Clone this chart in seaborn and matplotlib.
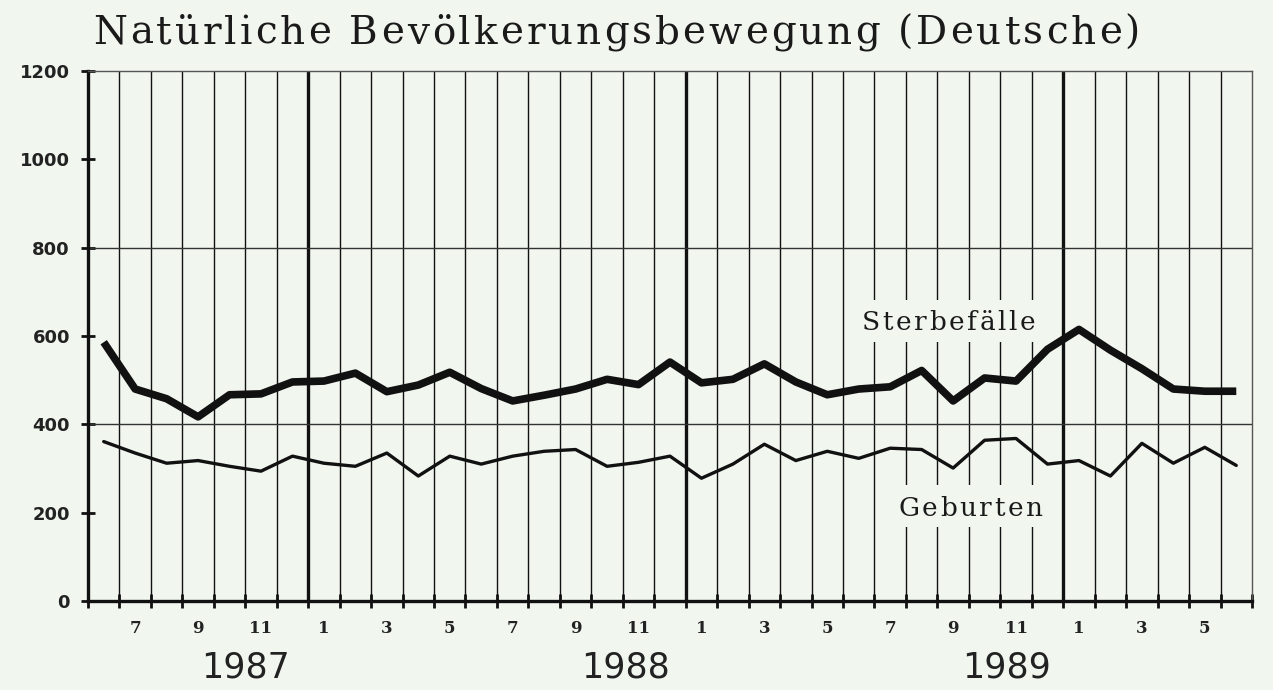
import numpy as np
import pandas as pd
import matplotlib
matplotlib.use("Agg")
import matplotlib.pyplot as plt
from matplotlib.font_manager import FontProperties
from matplotlib.patches import Rectangle
import seaborn as sns

# ---- data (monthly, June 1987 .. June 1990) ----
month_numbers = [6, 7, 8, 9, 10, 11, 12,
                 1, 2, 3, 4, 5, 6, 7, 8, 9, 10, 11, 12,
                 1, 2, 3, 4, 5, 6, 7, 8, 9, 10, 11, 12,
                 1, 2, 3, 4, 5, 6]
sterbefaelle = [586, 480, 458, 417, 467, 469, 496, 498, 516, 474, 489, 518,
                481, 453, 466, 480, 502, 490, 541, 494, 502, 537, 496, 467,
                480, 485, 522, 453, 505, 498, 570, 615, 568, 526, 480, 475, 475]
geburten = [361, 335, 312, 318, 305, 294, 328, 312, 305, 335, 283, 328,
            310, 328, 339, 343, 305, 314, 328, 278, 310, 355, 318, 339,
            323, 346, 343, 301, 364, 368, 310, 318, 283, 357, 312, 348, 307]
tick_month_labels = ["7", "9", "11", "1", "3", "5", "7", "9", "11",
                     "1", "3", "5", "7", "9", "11", "1", "3", "5"]
year_labels = ["1987", "1988", "1989"]
y_ticks = [0, 200, 400, 600, 800, 1000, 1200]

title = "Natürliche Bevölkerungsbewegung (Deutsche)"
label_sterbe = "Sterbefälle"
label_geburt = "Geburten"

BG = "#f1f6ef"
INK = "#111111"
TXT = "#1a1a1a"

idx = np.arange(len(month_numbers))
df = pd.DataFrame({
    "i": np.concatenate([idx, idx]),
    "wert": sterbefaelle + geburten,
    "serie": [label_sterbe] * len(idx) + [label_geburt] * len(idx),
})

sns.set_theme(style="white")
plt.rcParams["font.family"] = ["DejaVu Sans"]

fig = plt.figure(figsize=(12.73, 6.9), dpi=100, facecolor=BG)
ax = fig.add_axes([0.0691, 0.129, 0.9144, 0.768])
ax.set_facecolor(BG)
renderer = fig.canvas.get_renderer()
H = 690


def spaced_text(x0_px, x1_px, y_px_top, s, size, family="DejaVu Serif",
                weight="normal", zorder=5):
    """Draw text letter-spaced so it spans x0..x1 (pixel coords, y from top)."""
    fp = FontProperties(family=family, size=size, weight=weight)
    wn = renderer.get_text_width_height_descent("n", fp, ismath=False)[0]
    wsp = renderer.get_text_width_height_descent("n n", fp, ismath=False)[0] - 2 * wn
    widths = [wsp if c == " " else
              renderer.get_text_width_height_descent(c, fp, ismath=False)[0]
              for c in s]
    gap = (x1_px - x0_px - sum(widths)) / max(len(s) - 1, 1)
    x = x0_px
    for c, w in zip(s, widths):
        if c != " ":
            fig.text(x, H - y_px_top, c, transform=None, fontproperties=fp,
                     ha="left", va="center", color=TXT, zorder=zorder)
        x += w + gap


n = len(month_numbers)
ax.set_xlim(-0.5, n - 0.5)
ax.set_ylim(0, 1200)

# vertical grid at month boundaries (thicker at year change)
bounds = np.arange(-0.5, n, 1.0)
for b in bounds[1:-1]:
    k = int(b + 0.5)
    thick = month_numbers[k] == 1
    ax.axvline(b, color=INK, lw=2.4 if thick else 1.0, zorder=1)
for yv in (400, 800):
    ax.axhline(yv, color="#333333", lw=1.0, zorder=1)

sns.lineplot(data=df[df.serie == label_sterbe], x="i", y="wert", ax=ax,
             color=INK, lw=5.5, legend=False, zorder=3,
             solid_joinstyle="round", solid_capstyle="butt")
sns.lineplot(data=df[df.serie == label_geburt], x="i", y="wert", ax=ax,
             color=INK, lw=2.4, legend=False, zorder=3,
             solid_joinstyle="round", solid_capstyle="round")

# background patches where the grid is interrupted by the series labels
ax.add_patch(Rectangle((24.1, 586), 5.65, 95, facecolor=BG, edgecolor="none", zorder=2))
ax.add_patch(Rectangle((25.0, 167), 4.9, 95, facecolor=BG, edgecolor="none", zorder=2))

# spines
for s in ("left", "bottom"):
    ax.spines[s].set_color(INK)
    ax.spines[s].set_linewidth(2.4)
for s in ("top", "right"):
    ax.spines[s].set_color("#555555")
    ax.spines[s].set_linewidth(1.0)

# y ticks
ax.set_yticks(y_ticks)
ax.set_yticklabels([str(v) for v in y_ticks], fontsize=13, fontweight="bold",
                   color="#222222")
ax.tick_params(axis="y", direction="inout", length=10, width=2, color=INK, pad=8,
               left=True)

# x ticks: marks at boundaries, labels at month centres
ax.set_xticks(bounds)
ax.set_xticklabels([])
ax.tick_params(axis="x", which="major", direction="inout", length=10, width=2,
               color=INK, bottom=True)
label_pos = [i for i in range(n) if i % 2 == 1]
ax.set_xticks(label_pos, minor=True)
ax.set_xticklabels(tick_month_labels, minor=True, fontsize=12,
                   fontweight="bold", family="DejaVu Serif", color="#222222")
ax.tick_params(axis="x", which="minor", length=0, pad=14)
ax.set_xlabel("")
ax.set_ylabel("")

# year labels
for pos, lab in zip([4.5, 16.6, 28.7], year_labels):
    ax.text(pos, -0.125, lab, transform=ax.get_xaxis_transform(),
            ha="center", va="center", fontsize=25, color="#222222")

# series labels (letter-spaced, typewriter look)
spaced_text(862, 1035, 322, label_sterbe, 19)
spaced_text(898, 1043, 508, label_geburt, 19)

# title
spaced_text(93, 1140, 33, title, 28)

fig.savefig("out.png", dpi=100, facecolor=BG)
